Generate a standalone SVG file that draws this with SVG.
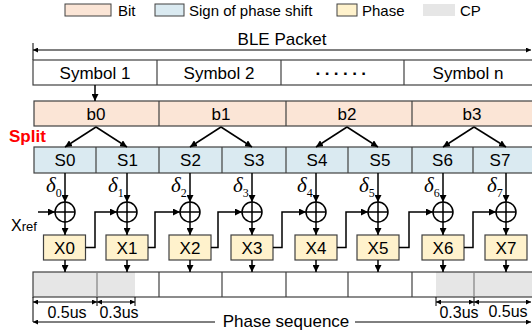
<svg xmlns="http://www.w3.org/2000/svg" width="532" height="335" viewBox="0 0 532 335">
  <style>
    text { font-family: "Liberation Sans", Arial, sans-serif; fill: #000; }
    .lbl { font-size: 17px; text-anchor: middle; }
    .leg { font-size: 15px; }
    .dim { font-size: 16px; text-anchor: middle; }
    .cell { stroke: #404040; stroke-width: 1.2; }
    .bit { fill: #FBE5D6; }
    .sign { fill: #DAEAF1; }
    .phase { fill: #FFF2CC; }
    .cp { fill: #E6E6E6; }
    .wire { fill: none; stroke: #000; stroke-width: 1.5; }
    .thin { fill: none; stroke: #000; stroke-width: 1; }
    .delta { font-family: "Liberation Serif", "Times New Roman", serif; font-style: italic; font-size: 21px; }
    .sub { font-family: "Liberation Serif", "Times New Roman", serif; font-style: normal; font-size: 12px; }
  </style>
  <defs>
    <marker id="arr" markerUnits="userSpaceOnUse" markerWidth="8" markerHeight="7" refX="7" refY="3.5" orient="auto">
      <path d="M0,0 L7,3.5 L0,7 z" fill="#000"/>
    </marker>
    <marker id="tip" markerUnits="userSpaceOnUse" markerWidth="6" markerHeight="5" refX="5" refY="2.5" orient="auto-start-reverse">
      <path d="M0,0 L5,2.5 L0,5 z" fill="#000"/>
    </marker>
  </defs>

  <!-- legend -->
  <g id="legend">
    <rect x="65" y="4" width="46" height="12" class="bit" stroke="#404040" stroke-width="1"/>
    <text x="118" y="16" class="leg">Bit</text>
    <rect x="155" y="4" width="29" height="12" class="sign" stroke="#404040" stroke-width="1"/>
    <text x="189" y="16" class="leg">Sign of phase shift</text>
    <rect x="337" y="4" width="20" height="12" class="phase" stroke="#404040" stroke-width="1"/>
    <text x="362" y="16" class="leg">Phase</text>
    <rect x="423" y="4" width="32" height="12" class="cp"/>
    <text x="460" y="16" class="leg">CP</text>
  </g>

  <!-- packet extent -->
  <g id="packet">
    <text x="282" y="45" class="lbl">BLE Packet</text>
    <line x1="33" y1="43" x2="33" y2="60" class="thin"/>
    <line x1="33" y1="50" x2="531" y2="50" class="thin" marker-start="url(#tip)" marker-end="url(#tip)"/>
  </g>

  <!-- symbol row -->
  <g id="symbols">
    <rect x="33" y="60" width="510" height="25" fill="#fff" class="cell"/>
    <line x1="157" y1="60" x2="157" y2="85" class="cell"/>
    <line x1="281" y1="60" x2="281" y2="85" class="cell"/>
    <line x1="404" y1="60" x2="404" y2="85" class="cell"/>
    <text x="95" y="79" class="lbl">Symbol 1</text>
    <text x="219" y="79" class="lbl">Symbol 2</text>
    <text x="343" y="79" class="lbl" font-weight="bold" letter-spacing="3.5">······</text>
    <text x="468" y="79" class="lbl">Symbol n</text>
  </g>

  <!-- bit row -->
  <g id="bits">
    <rect x="34" y="101" width="510" height="25" class="bit cell"/>
    <line x1="159" y1="101" x2="159" y2="126" class="cell"/>
    <line x1="286" y1="101" x2="286" y2="126" class="cell"/>
    <line x1="412" y1="101" x2="412" y2="126" class="cell"/>
    <text x="96" y="120" class="lbl">b0</text>
    <text x="221" y="120" class="lbl">b1</text>
    <text x="347" y="120" class="lbl">b2</text>
    <text x="472" y="120" class="lbl">b3</text>
  </g>

  <text id="split" x="9" y="142" font-size="17" font-weight="bold" style="fill:#FF0000">Split</text>

  <!-- sign-of-shift row -->
  <g id="signs">
    <rect x="34" y="147" width="510" height="26" class="sign cell"/>
    <line x1="96" y1="147" x2="96" y2="173" class="cell"/>
    <line x1="159" y1="147" x2="159" y2="173" class="cell"/>
    <line x1="222" y1="147" x2="222" y2="173" class="cell"/>
    <line x1="286" y1="147" x2="286" y2="173" class="cell"/>
    <line x1="348" y1="147" x2="348" y2="173" class="cell"/>
    <line x1="412" y1="147" x2="412" y2="173" class="cell"/>
    <line x1="473" y1="147" x2="473" y2="173" class="cell"/>
    <text x="65" y="166" class="lbl">S0</text>
    <text x="127.5" y="166" class="lbl">S1</text>
    <text x="190.5" y="166" class="lbl">S2</text>
    <text x="254" y="166" class="lbl">S3</text>
    <text x="317" y="166" class="lbl">S4</text>
    <text x="380" y="166" class="lbl">S5</text>
    <text x="442.5" y="166" class="lbl">S6</text>
    <text x="500" y="166" class="lbl">S7</text>
  </g>

  <!-- phase shift labels -->
  <g id="deltas">
    <text x="46" y="192" class="delta">δ<tspan class="sub" dy="5">0</tspan></text>
    <text x="108" y="192" class="delta">δ<tspan class="sub" dy="5">1</tspan></text>
    <text x="171" y="192" class="delta">δ<tspan class="sub" dy="5">2</tspan></text>
    <text x="233" y="192" class="delta">δ<tspan class="sub" dy="5">3</tspan></text>
    <text x="297" y="192" class="delta">δ<tspan class="sub" dy="5">4</tspan></text>
    <text x="359" y="192" class="delta">δ<tspan class="sub" dy="5">5</tspan></text>
    <text x="424" y="192" class="delta">δ<tspan class="sub" dy="5">6</tspan></text>
    <text x="487" y="192" class="delta">δ<tspan class="sub" dy="5">7</tspan></text>
  </g>

  <!-- adders -->
  <g id="adders" class="wire">
    <g id="add0"><circle cx="65" cy="212" r="10"/><path d="M55,212 H75 M65,202 V222"/></g>
    <g id="add1"><circle cx="127" cy="212" r="10"/><path d="M117,212 H137 M127,202 V222"/></g>
    <g id="add2"><circle cx="190" cy="212" r="10"/><path d="M180,212 H200 M190,202 V222"/></g>
    <g id="add3"><circle cx="252" cy="212" r="10"/><path d="M242,212 H262 M252,202 V222"/></g>
    <g id="add4"><circle cx="316" cy="212" r="10"/><path d="M306,212 H326 M316,202 V222"/></g>
    <g id="add5"><circle cx="378" cy="212" r="10"/><path d="M368,212 H388 M378,202 V222"/></g>
    <g id="add6"><circle cx="443" cy="212" r="10"/><path d="M433,212 H453 M443,202 V222"/></g>
    <g id="add7"><circle cx="506" cy="212" r="10"/><path d="M496,212 H516 M506,202 V222"/></g>
  </g>

  <text id="xref" x="11" y="231" font-size="16">X<tspan font-size="13">ref</tspan></text>

  <!-- phase blocks -->
  <g id="phases">
    <g id="x0"><rect x="43.5" y="235" width="42" height="25" class="phase cell"/><text x="64.5" y="254" class="lbl">X0</text></g>
    <g id="x1"><rect x="106" y="235" width="42" height="25" class="phase cell"/><text x="127" y="254" class="lbl">X1</text></g>
    <g id="x2"><rect x="169" y="235" width="42" height="25" class="phase cell"/><text x="190" y="254" class="lbl">X2</text></g>
    <g id="x3"><rect x="231" y="235" width="42" height="25" class="phase cell"/><text x="252" y="254" class="lbl">X3</text></g>
    <g id="x4"><rect x="295" y="235" width="42" height="25" class="phase cell"/><text x="316" y="254" class="lbl">X4</text></g>
    <g id="x5"><rect x="357" y="235" width="42" height="25" class="phase cell"/><text x="378" y="254" class="lbl">X5</text></g>
    <g id="x6"><rect x="422" y="235" width="42" height="25" class="phase cell"/><text x="443" y="254" class="lbl">X6</text></g>
    <g id="x7"><rect x="485" y="235" width="42" height="25" class="phase cell"/><text x="506" y="254" class="lbl">X7</text></g>
  </g>

  <!-- phase sequence row -->
  <g id="sequence">
    <rect x="33" y="272" width="510" height="25" fill="#fff"/>
    <rect x="33" y="272" width="102" height="25" class="cp"/>
    <rect x="436" y="272" width="107" height="25" class="cp"/>
    <rect x="33" y="272" width="510" height="25" fill="none" class="cell"/>
    <line x1="97" y1="272" x2="97" y2="297" stroke="#808080" stroke-width="1.2"/>
    <line x1="474" y1="272" x2="474" y2="297" stroke="#808080" stroke-width="1.2"/>
    <line x1="159" y1="272" x2="159" y2="297" class="cell"/>
    <line x1="222" y1="272" x2="222" y2="297" class="cell"/>
    <line x1="286" y1="272" x2="286" y2="297" class="cell"/>
    <line x1="348" y1="272" x2="348" y2="297" class="cell"/>
    <line x1="412" y1="272" x2="412" y2="297" class="cell"/>
  </g>

  <!-- CP durations -->
  <g id="durations">
    <path d="M33,297 V322 M97,297 V306 M135,297 V306 M436,297 V306 M474,297 V306" class="thin"/>
    <line x1="33" y1="302" x2="97" y2="302" class="thin" marker-start="url(#tip)" marker-end="url(#tip)"/>
    <line x1="97" y1="302" x2="135" y2="302" class="thin" marker-start="url(#tip)" marker-end="url(#tip)"/>
    <line x1="436" y1="302" x2="474" y2="302" class="thin" marker-start="url(#tip)" marker-end="url(#tip)"/>
    <line x1="474" y1="302" x2="531" y2="302" class="thin" marker-start="url(#tip)" marker-end="url(#tip)"/>
    <text x="67" y="318" class="dim">0.5us</text>
    <text x="119" y="318" class="dim">0.3us</text>
    <text x="459" y="318" class="dim">0.3us</text>
    <text x="508" y="317" class="dim">0.5us</text>
    <text x="286" y="327" class="lbl">Phase sequence</text>
    <line x1="215" y1="322" x2="33" y2="322" class="thin" marker-end="url(#tip)"/>
    <line x1="355" y1="322" x2="531" y2="322" class="thin" marker-end="url(#tip)"/>
  </g>

  <!-- connectors -->
  <g id="connectors" class="wire">
    <line x1="95" y1="85" x2="95" y2="101" marker-end="url(#arr)"/>
    <!-- splits -->
    <path d="M96,127 L65,147" marker-end="url(#arr)"/>
    <path d="M96,127 L127,147" marker-end="url(#arr)"/>
    <path d="M221,127 L190,147" marker-end="url(#arr)"/>
    <path d="M221,127 L252,147" marker-end="url(#arr)"/>
    <path d="M347,127 L316,147" marker-end="url(#arr)"/>
    <path d="M347,127 L378,147" marker-end="url(#arr)"/>
    <path d="M474,127 L443,147" marker-end="url(#arr)"/>
    <path d="M474,127 L506,147" marker-end="url(#arr)"/>
    <!-- sign to adder -->
    <line x1="65" y1="173" x2="65" y2="202" marker-end="url(#arr)"/>
    <line x1="127" y1="173" x2="127" y2="202" marker-end="url(#arr)"/>
    <line x1="190" y1="173" x2="190" y2="202" marker-end="url(#arr)"/>
    <line x1="252" y1="173" x2="252" y2="202" marker-end="url(#arr)"/>
    <line x1="316" y1="173" x2="316" y2="202" marker-end="url(#arr)"/>
    <line x1="378" y1="173" x2="378" y2="202" marker-end="url(#arr)"/>
    <line x1="443" y1="173" x2="443" y2="202" marker-end="url(#arr)"/>
    <line x1="506" y1="173" x2="506" y2="202" marker-end="url(#arr)"/>
    <!-- adder to phase -->
    <line x1="65" y1="222" x2="65" y2="235" marker-end="url(#arr)"/>
    <line x1="127" y1="222" x2="127" y2="235" marker-end="url(#arr)"/>
    <line x1="190" y1="222" x2="190" y2="235" marker-end="url(#arr)"/>
    <line x1="252" y1="222" x2="252" y2="235" marker-end="url(#arr)"/>
    <line x1="316" y1="222" x2="316" y2="235" marker-end="url(#arr)"/>
    <line x1="378" y1="222" x2="378" y2="235" marker-end="url(#arr)"/>
    <line x1="443" y1="222" x2="443" y2="235" marker-end="url(#arr)"/>
    <line x1="506" y1="222" x2="506" y2="235" marker-end="url(#arr)"/>
    <!-- phase to sequence -->
    <line x1="65" y1="260" x2="65" y2="272" marker-end="url(#arr)"/>
    <line x1="127" y1="260" x2="127" y2="272" marker-end="url(#arr)"/>
    <line x1="190" y1="260" x2="190" y2="272" marker-end="url(#arr)"/>
    <line x1="252" y1="260" x2="252" y2="272" marker-end="url(#arr)"/>
    <line x1="316" y1="260" x2="316" y2="272" marker-end="url(#arr)"/>
    <line x1="378" y1="260" x2="378" y2="272" marker-end="url(#arr)"/>
    <line x1="443" y1="260" x2="443" y2="272" marker-end="url(#arr)"/>
    <line x1="506" y1="260" x2="506" y2="272" marker-end="url(#arr)"/>
    <!-- reference and feedback -->
    <line x1="38" y1="212" x2="55" y2="212" marker-end="url(#arr)"/>
    <path d="M85.5,247.5 H95 V212 H117" marker-end="url(#arr)"/>
    <path d="M148,247.5 H155 V212 H180" marker-end="url(#arr)"/>
    <path d="M211,247.5 H218 V212 H242" marker-end="url(#arr)"/>
    <path d="M273,247.5 H282 V212 H306" marker-end="url(#arr)"/>
    <path d="M337,247.5 H346 V212 H368" marker-end="url(#arr)"/>
    <path d="M399,247.5 H409 V212 H433" marker-end="url(#arr)"/>
    <path d="M464,247.5 H473 V212 H496" marker-end="url(#arr)"/>
  </g>
</svg>
